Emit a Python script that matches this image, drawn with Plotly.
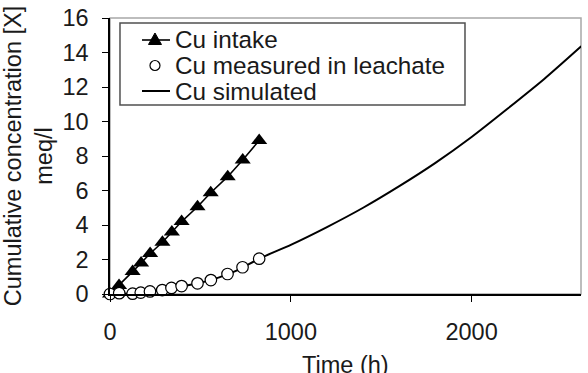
import plotly.graph_objects as go

# Data
intake_t = [0, 50, 125, 172, 222, 290, 342, 396, 484, 557, 651, 734, 825]
intake_c = [0, 0.5, 1.3, 1.8, 2.35, 3.0, 3.6, 4.2, 5.06, 5.87, 6.8, 7.77, 8.9]

meas_t = [0, 51, 125, 170, 221, 289, 340, 396, 484, 558, 650, 733, 825]
meas_c = [0, 0.05, 0.02, 0.08, 0.15, 0.23, 0.35, 0.46, 0.62, 0.81, 1.16, 1.55, 2.05]

sim_t = [0, 100, 200, 300, 400, 500, 600, 700, 825, 1000, 1200, 1400, 1600,
         1800, 2000, 2200, 2400, 2600, 2700]
sim_c = [0, 0.03, 0.12, 0.25, 0.45, 0.65, 0.95, 1.35, 2.05, 2.85, 3.88, 5.0, 6.25,
         7.6, 9.1, 10.75, 12.45, 14.3, 15.25]

x_ticks = [0, 1000, 2000]
y_ticks = [0, 2, 4, 6, 8, 10, 12, 14, 16]

legend_labels = ["Cu intake", "Cu measured in leachate", "Cu simulated"]
x_title = "Time (h)"
y_title = "Cumulative concentration [X]<br>meq/l"

FONT = "Liberation Sans, Arial, sans-serif"
TXT = "#1a1a1a"

fig = go.Figure()
fig.add_trace(go.Scatter(
    x=sim_t, y=sim_c, mode="lines", name=legend_labels[2],
    line=dict(color="black", width=2, shape="spline", smoothing=0.6),
    showlegend=False,
))
fig.add_trace(go.Scatter(
    x=intake_t, y=intake_c, mode="lines+markers", name=legend_labels[0],
    line=dict(color="black", width=1.6),
    marker=dict(symbol="triangle-up", size=14, color="black"),
    cliponaxis=False, showlegend=False,
))
fig.add_trace(go.Scatter(
    x=meas_t, y=meas_c, mode="markers", name=legend_labels[1],
    marker=dict(symbol="circle", size=11.5, color="white",
                line=dict(color="black", width=1.2)),
    cliponaxis=False, showlegend=False,
))

# ---- hand-built legend (box, symbols, labels) in paper coordinates ----
box = dict(x0=0.0212, x1=0.7537, y0=0.6848, y1=0.9819)
rows = [0.9203, 0.8279, 0.7355]
sym_x0, sym_x1, sym_xc, text_x = 0.0679, 0.1274, 0.0955, 0.133

shapes = [
    dict(type="rect", xref="paper", yref="paper", x0=0, x1=1, y0=0, y1=1,
         line=dict(color="#a8a8a8", width=1.5), layer="below"),
    dict(type="rect", xref="paper", yref="paper", **box,
         line=dict(color="#505050", width=1.5), fillcolor="white", layer="above"),
    # intake: line + triangle
    dict(type="line", xref="paper", yref="paper", x0=sym_x0, x1=sym_x1,
         y0=rows[0], y1=rows[0], line=dict(color="black", width=1.6)),
    dict(type="path", xref="paper", yref="paper", xsizemode="pixel",
         ysizemode="pixel", xanchor=sym_xc, yanchor=rows[0],
         path="M -6.5,-4.5 L 6.5,-4.5 L 0,7 Z", fillcolor="black",
         line=dict(color="black", width=1)),
    # measured: open circle
    dict(type="circle", xref="paper", yref="paper", xsizemode="pixel",
         ysizemode="pixel", xanchor=sym_xc, yanchor=rows[1],
         x0=-5, x1=5, y0=-5, y1=5, fillcolor="white",
         line=dict(color="black", width=1.2)),
    # simulated: line
    dict(type="line", xref="paper", yref="paper", x0=sym_x0, x1=sym_x1,
         y0=rows[2], y1=rows[2], line=dict(color="black", width=2)),
]

annotations = [
    dict(xref="paper", yref="paper", x=text_x, y=r, text=lab, showarrow=False,
         xanchor="left", yanchor="middle", font=dict(size=24.3, color=TXT))
    for r, lab in zip(rows, legend_labels)
]
# x-axis title placed as in the reference (partly cut at the bottom edge)
annotations.append(dict(xref="paper", yref="paper", x=0.5, y=-0.256,
                        text=x_title, showarrow=False, xanchor="center",
                        yanchor="middle", font=dict(size=23.5, color=TXT)))

fig.update_layout(
    width=588, height=373,
    margin=dict(l=110, r=7, t=18, b=79, autoexpand=False),
    paper_bgcolor="white", plot_bgcolor="white",
    font=dict(family=FONT, size=23, color=TXT),
    showlegend=False,
    xaxis=dict(
        range=[0, 2605], tickvals=x_ticks, ticks="outside", ticklen=6,
        tickcolor="black", showline=True, linecolor="black", linewidth=1.5,
        showgrid=False, zeroline=False, ticklabelstandoff=10, automargin=False,
        tickfont=dict(size=23.5),
    ),
    yaxis=dict(
        range=[0, 16], tickvals=y_ticks, ticks="outside", ticklen=6,
        tickcolor="black", showline=True, linecolor="black", linewidth=1.5,
        showgrid=False, zeroline=False, ticklabelstandoff=9, automargin=False,
        tickfont=dict(size=23.5),
        title=dict(text=y_title, standoff=6, font=dict(size=23.5)),
    ),
    shapes=shapes,
    annotations=annotations,
)

fig.write_html("out.html")
